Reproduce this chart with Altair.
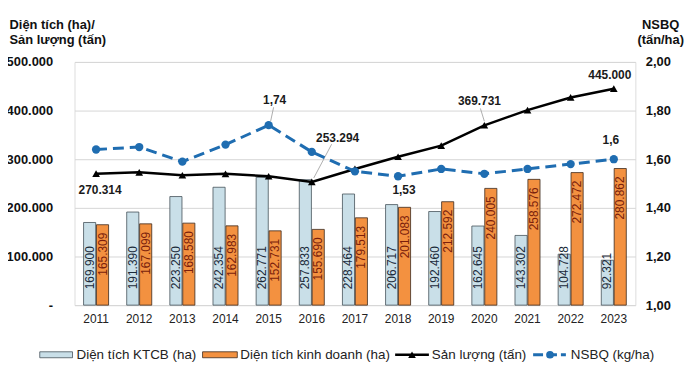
import altair as alt
import pandas as pd

FONT = "Liberation Sans"

years = [str(y) for y in range(2011, 2024)]
dt_ktcb = [169900, 191390, 223250, 242354, 262771, 257833, 228464, 206717, 192460, 162645, 143302, 104728, 92321]
dt_kd = [165309, 167099, 168580, 162983, 152731, 155690, 179513, 201083, 212592, 240005, 258576, 272472, 280862]
san_luong = [270314, 273000, 267000, 270000, 265000, 253294, 280000, 305000, 328000, 369731, 401000, 427000, 445000]
nsbq = [1.64, 1.65, 1.59, 1.66, 1.74, 1.63, 1.55, 1.53, 1.56, 1.54, 1.56, 1.58, 1.6]

series_names = ["KTCB", "KD"]


def vn_int(v):
    return f"{v:,}".replace(",", ".")


bars_rows = []
for i, y in enumerate(years):
    bars_rows.append({"year": y, "series": "KTCB", "value": dt_ktcb[i], "label": vn_int(dt_ktcb[i])})
    bars_rows.append({"year": y, "series": "KD", "value": dt_kd[i], "label": vn_int(dt_kd[i])})
df_bars = pd.DataFrame(bars_rows)

df_line = pd.DataFrame({
    "year": years,
    "sl": san_luong,
    "sl_lbl": [vn_int(v) for v in san_luong],
    "ns": nsbq,
    "ns_lbl": [str(v).replace(".", ",") for v in nsbq],
})

W, H = 565, 245
BLUE = "#1f6db1"
LIGHT = "#c9dfe8"
ORANGE = "#f39140"

xscale = alt.Scale(paddingInner=0.42, paddingOuter=0.21)
xaxis = alt.Axis(title=None, labelFontSize=12, labelFont=FONT, labelColor="#222", labelAngle=0,
                 ticks=False, tickSize=0, domain=False, grid=False, labelPadding=8)
X = alt.X("year:N", sort=years, scale=xscale, axis=xaxis)

yl_scale = alt.Scale(domain=[0, 500000], nice=False)
yl_axis = alt.Axis(values=[0, 100000, 200000, 300000, 400000, 500000],
                   title=["Diện tích (ha)/", "Sản lượng (tấn)"], titleAngle=0, titleAlign="left",
                   titleBaseline="top", titleX=-66, titleY=-44, titleFontSize=13, titleFontWeight="bold",
                   titleFont=FONT, titleColor="#111", titleLineHeight=15,
                   labelFontSize=13, labelFontWeight="bold", labelFont=FONT, labelColor="#111",
                   labelPadding=22, ticks=False, tickSize=0, domain=False, grid=True,
                   gridColor="#d6d6d6", gridWidth=1,
                   labelExpr="datum.value == 0 ? '-\u00a0\u00a0\u00a0' : replace(format(datum.value, ',.0f'), ',', '.')")

yr_scale = alt.Scale(domain=[1.0, 2.0], nice=False)
yr_axis = alt.Axis(orient="right", values=[1.0, 1.2, 1.4, 1.6, 1.8, 2.0],
                   title=["NSBQ", "(tấn/ha)"], titleAngle=0, titleAlign="center",
                   titleBaseline="top", titleX=25, titleY=-44, titleFontSize=13, titleFontWeight="bold",
                   titleFont=FONT, titleColor="#111", titleLineHeight=15,
                   labelFontSize=13, labelFontWeight="bold", labelFont=FONT, labelColor="#111",
                   labelPadding=10, ticks=False, tickSize=0, domain=False, grid=False,
                   labelExpr="replace(format(datum.value, '.2f'), '.', ',')")

XOFF = alt.XOffset("series:N", sort=series_names, scale=alt.Scale(paddingInner=0.06))

bars = alt.Chart(df_bars).mark_bar(strokeWidth=0.8).encode(
    x=X, xOffset=XOFF,
    y=alt.Y("value:Q", scale=yl_scale, axis=yl_axis),
    fill=alt.Fill("series:N", scale=alt.Scale(domain=series_names, range=[LIGHT, ORANGE]), legend=None),
    stroke=alt.Stroke("series:N", scale=alt.Scale(domain=series_names, range=["#46525a", "#3b2a1e"]), legend=None),
)

ktcb_txt = alt.Chart(df_bars).transform_filter("datum.series == 'KTCB'").mark_text(
    angle=270, align="left", baseline="middle", dx=16, fontSize=12, font=FONT, color="#1b2a3a"
).encode(x=X, xOffset=XOFF, y=alt.Y(datum=0, scale=yl_scale, axis=yl_axis), text="label:N")

kd_txt = alt.Chart(df_bars).transform_filter("datum.series == 'KD'").mark_text(
    angle=270, align="right", baseline="middle", dx=-8, fontSize=12, font=FONT, color="#7a1e0c"
).encode(x=X, xOffset=XOFF, y=alt.Y("value:Q", scale=yl_scale, axis=yl_axis), text="label:N")

base = alt.Chart(df_line)
YL = alt.Y("sl:Q", scale=yl_scale, axis=yl_axis)
YR = alt.Y("ns:Q", scale=yr_scale, axis=yr_axis)

sl_line = base.mark_line(color="black", strokeWidth=2.5).encode(x=X, y=YL)
sl_pts = base.mark_point(shape="triangle-up", filled=True, size=60, color="black", opacity=1).encode(x=X, y=YL)


def lbl(field, year, dx, dy, y):
    return base.transform_filter(f"datum.year == '{year}'").mark_text(
        dx=dx, dy=dy, fontSize=12, fontWeight="bold", font=FONT, color="#1a1a1a"
    ).encode(x=X, y=y, text=f"{field}_lbl:N")


sl_labels = [
    lbl("sl", "2011", 4, 17, YL),
    lbl("sl", "2016", 26, -44, YL),
    lbl("sl", "2020", -5, -24, YL),
    lbl("sl", "2023", -4, -14, YL),
]

sl_leaders = [
    base.transform_filter("datum.year == '2016'").mark_rule(
        color="#9a9a9a", strokeWidth=0.8, xOffset=2, yOffset=-4, x2Offset=20, y2Offset=-38
    ).encode(x=X, x2=alt.X2("year:N"), y=YL, y2=alt.Y2("sl:Q")),
    base.transform_filter("datum.year == '2020'").mark_rule(
        color="#9a9a9a", strokeWidth=0.8, xOffset=0, yOffset=-4, x2Offset=-4, y2Offset=-17
    ).encode(x=X, x2=alt.X2("year:N"), y=YL, y2=alt.Y2("sl:Q")),
]

ns_line = base.mark_line(color=BLUE, strokeWidth=3, strokeDash=[11, 6]).encode(x=X, y=YR)
ns_pts = base.mark_point(shape="circle", filled=True, size=70, color=BLUE, opacity=1).encode(x=X, y=YR)

ns_labels = [
    lbl("ns", "2015", 6, -25, YR),
    lbl("ns", "2018", 6, 14, YR),
    lbl("ns", "2023", -3, -19, YR),
]
ns_leaders = [
    base.transform_filter("datum.year == '2015'").mark_rule(
        color="#9a9a9a", strokeWidth=0.8, xOffset=2, yOffset=-4, x2Offset=5, y2Offset=-18
    ).encode(x=X, x2=alt.X2("year:N"), y=YR, y2=alt.Y2("ns:Q")),
]

# legend (manual)
one = alt.Data(values=[{"k": 1}])
LY = 295
LFS = 13.5
legend = [
    alt.Chart(one).mark_rect(fill=LIGHT, stroke="#46525a", strokeWidth=0.8).encode(
        x=alt.value(-35), x2=alt.value(-2), y=alt.value(LY - 3), y2=alt.value(LY + 3)),
    alt.Chart(one).mark_text(align="left", baseline="middle", fontSize=LFS, font=FONT, color="#222").encode(
        x=alt.value(2), y=alt.value(LY), text=alt.value("Diện tích KTCB (ha)")),
    alt.Chart(one).mark_rect(fill=ORANGE, stroke="#3b2a1e", strokeWidth=0.8).encode(
        x=alt.value(129), x2=alt.value(164), y=alt.value(LY - 3), y2=alt.value(LY + 3)),
    alt.Chart(one).mark_text(align="left", baseline="middle", fontSize=LFS, font=FONT, color="#222").encode(
        x=alt.value(167), y=alt.value(LY), text=alt.value("Diện tích kinh doanh (ha)")),
    alt.Chart(one).mark_rule(color="black", strokeWidth=2.5).encode(
        x=alt.value(323), x2=alt.value(357), y=alt.value(LY)),
    alt.Chart(one).mark_point(shape="triangle-up", filled=True, size=60, color="black", opacity=1).encode(
        x=alt.value(340), y=alt.value(LY)),
    alt.Chart(one).mark_text(align="left", baseline="middle", fontSize=LFS, font=FONT, color="#222").encode(
        x=alt.value(360), y=alt.value(LY), text=alt.value("Sản lượng (tấn)")),
    alt.Chart(one).mark_rule(color=BLUE, strokeWidth=3, strokeDash=[10, 4]).encode(
        x=alt.value(462), x2=alt.value(495), y=alt.value(LY)),
    alt.Chart(one).mark_point(shape="circle", filled=True, size=60, color=BLUE, opacity=1).encode(
        x=alt.value(479), y=alt.value(LY)),
    alt.Chart(one).mark_text(align="left", baseline="middle", fontSize=LFS, font=FONT, color="#222").encode(
        x=alt.value(500), y=alt.value(LY), text=alt.value("NSBQ (kg/ha)")),
]

left = alt.layer(bars, ktcb_txt, kd_txt, sl_line, sl_pts, *sl_leaders, *sl_labels)
right = alt.layer(ns_line, ns_pts, *ns_leaders, *ns_labels, *legend)

chart = alt.layer(left, right).resolve_scale(y="independent").properties(
    width=W, height=H,
    autosize=alt.AutoSizeParams(type="none"),
    padding={"left": 67, "top": 53, "right": 50, "bottom": 62},
).configure_view(stroke=None).configure(background="white")

chart.save("out.html", embed_options={"renderer": "svg", "actions": False})
